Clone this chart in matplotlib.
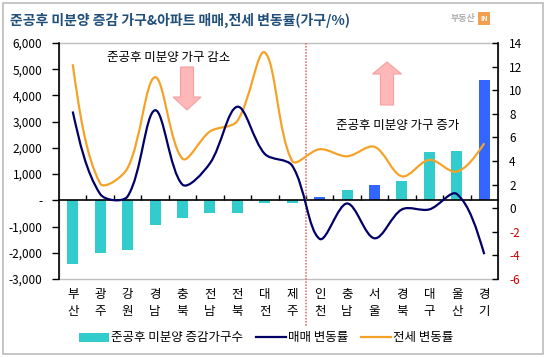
import numpy as np
import matplotlib
matplotlib.use("Agg")
import matplotlib.pyplot as plt
from matplotlib.path import Path
from matplotlib.patches import PathPatch, Rectangle, Polygon, Patch
from matplotlib.lines import Line2D
import matplotlib.transforms as mtransforms

plt.rcParams['font.family'] = ['Noto Sans CJK KR', 'DejaVu Sans']

# ---------------- data ----------------
regions = ['부산', '광주', '강원', '경남', '충북', '전남', '전북', '대전', '제주',
           '인천', '충남', '서울', '경북', '대구', '울산', '경기']
unit_change = [-2420, -2000, -1900, -940, -680, -480, -480, -100, -100,
               120, 380, 570, 730, 1830, 1900, 4580]
sale_rate = [8.2, 1.2, 1.0, 8.3, 2.0, 3.8, 8.6, 4.6, 3.6,
             -2.6, 0.4, -2.55, -0.1, -0.1, 1.2, -3.9]
jeonse_rate = [12.2, 2.1, 3.4, 11.1, 4.2, 6.5, 7.4, 13.2, 4.0,
               5.0, 4.4, 5.2, 2.7, 4.1, 3.1, 5.5]
highlight = ['인천', '서울', '경기']
left_ticks = [-3000, -2000, -1000, 0, 1000, 2000, 3000, 4000, 5000, 6000]
left_labels = ['-3,000', '-2,000', '-1,000', '-', '1,000', '2,000', '3,000', '4,000', '5,000', '6,000']
right_ticks = [-6, -4, -2, 0, 2, 4, 6, 8, 10, 12, 14]

title = '준공후 미분양 증감 가구&아파트 매매,전세 변동률(가구/%)'
legend_labels = ['준공후 미분양 증감가구수', '매매 변동률', '전세 변동률']

# ---------------- style ----------------
W, H = 546, 357
C_TEAL = '#33CCCC'
C_BLUE = '#3366FF'
C_NAVY = '#000066'
C_ORANGE = '#F5A328'

fig = plt.figure(figsize=(W / 100, H / 100), dpi=100)

def px(x0, y0, x1, y1):
    return [x0 / W, 1 - y1 / H, (x1 - x0) / W, (y1 - y0) / H]

ax = fig.add_axes(px(59, 43, 498, 279))
ax2 = ax.twinx()

x = np.arange(len(regions))
colors = [C_BLUE if r in highlight else C_TEAL for r in regions]
ax.bar(x, unit_change, width=0.4, color=colors, zorder=2)

ax.set_xlim(-0.5, len(regions) - 0.5)
ax.set_ylim(-3000, 6000)
ax2.set_ylim(-6, 14)

# left axis
ax.set_yticks(left_ticks)
ax.set_yticklabels(left_labels, fontsize=8.5)
ax.tick_params(axis='y', direction='out', length=5, width=1, pad=7)

# right axis
ax2.set_yticks(right_ticks)
ax2.set_yticklabels([str(t) for t in right_ticks], fontsize=8.5)
for t, lab in zip(right_ticks, ax2.get_yticklabels()):
    lab.set_color('#CC0000' if t < 0 else 'black')
ax2.tick_params(axis='y', direction='in', length=4, width=1, pad=8)

# x axis as zero line
for a in (ax, ax2):
    a.spines['top'].set_visible(False)
ax2.spines['bottom'].set_visible(False)
ax2.spines['left'].set_visible(False)
ax.spines['right'].set_visible(False)
ax.spines['bottom'].set_position(('data', 0))
ax.spines['bottom'].set_linewidth(1.2)
ax.spines['left'].set_linewidth(1.2)
ax2.spines['right'].set_linewidth(1.2)
ax.set_xticks(x)
ax.set_xticklabels(['\n'.join(r) for r in regions], fontsize=9, linespacing=1.45)
ax.tick_params(axis='x', which='major', length=0, pad=63)
ax.set_xticks(np.arange(-0.5, len(regions), 1.0)[1:-1], minor=True)
ax.tick_params(axis='x', which='minor', direction='in', length=3.5, width=1)

# plot area border (gray)
ax.add_patch(Rectangle((0, 0), 1, 1, transform=ax.transAxes, fill=False,
                       ec='#C0C0C0', lw=1, zorder=0, clip_on=False))

# smooth lines: Bezier through the data points, tangents weighted by
# on-screen chord lengths (spreadsheet-style smoothing)
fig.canvas.draw()
def smooth_path(a, xs, ys, s=1.0 / 3):
    pts = np.column_stack([xs, ys]).astype(float)
    scr = a.transData.transform(pts)
    n = len(pts)
    seg = np.hypot(*np.diff(scr, axis=0).T)
    verts = [pts[0]]
    codes = [Path.MOVETO]
    def ctrl(i):
        if i == 0 or i == n - 1:
            return pts[i], pts[i]
        d = pts[i + 1] - pts[i - 1]
        la, lb = seg[i - 1], seg[i]
        return pts[i] - d * s * la / (la + lb), pts[i] + d * s * lb / (la + lb)
    for i in range(n - 1):
        _, c1 = ctrl(i)
        c2, _ = ctrl(i + 1)
        if i == 0:
            c1 = pts[0] + (c2 - pts[0]) / 2 * 0 + (pts[1] - pts[0]) / 3 * 0 + (c2 - pts[0]) * 0.5
        if i + 1 == n - 1:
            c2 = pts[n - 1] + (c1 - pts[n - 1]) * 0.5
        verts += [c1, c2, pts[i + 1]]
        codes += [Path.CURVE4] * 3
    return Path(verts, codes)

ax2.add_patch(PathPatch(smooth_path(ax2, x, jeonse_rate), fill=False, ec=C_ORANGE,
                        lw=1.6, zorder=3))
ax2.add_patch(PathPatch(smooth_path(ax2, x, sale_rate), fill=False, ec=C_NAVY,
                        lw=1.6, zorder=4))

# dotted red divider
trans = mtransforms.blended_transform_factory(ax.transData, ax.transAxes)
ax.plot([8.5, 8.5], [1.0, -0.205], transform=trans, color='#E06060',
        ls=(0, (1, 1)), lw=1.1, clip_on=False, zorder=5)

# annotations
fig.text(169 / W, 1 - 57 / H, '준공후 미분양 가구 감소', ha='center', va='center', fontsize=9)
fig.text(398 / W, 1 - 125 / H, '준공후 미분양 가구 증가', ha='center', va='center', fontsize=9)

def arrow(cx, y_tail, y_base, y_tip, shaft_w, head_w):
    pts = [(cx - shaft_w / 2, y_tail), (cx + shaft_w / 2, y_tail),
           (cx + shaft_w / 2, y_base), (cx + head_w / 2, y_base),
           (cx, y_tip), (cx - head_w / 2, y_base), (cx - shaft_w / 2, y_base)]
    pts = [(px_ / W, 1 - py / H) for px_, py in pts]
    fig.patches.append(Polygon(pts, closed=True, transform=fig.transFigure,
                               fc='#FFB8B8', ec='#F4A0A0', lw=0.8))

arrow(187, 67, 97, 110, 13, 28)
arrow(387, 105, 74, 62, 13, 29)

# title
fig.text(10 / W, 1 - 20 / H, title, ha='left', va='center', fontsize=10,
         fontweight='bold', color='#1F4E79')

# logo
fig.text(475 / W, 1 - 18 / H, '부동산', ha='right', va='center', fontsize=6.5,
         color='#B0B0B0', fontweight='bold')
fig.patches.append(Rectangle((478 / W, 1 - 25 / H), 12 / W, 13 / H,
                             transform=fig.transFigure, fc='#F0A050', ec='none'))
fig.text(484 / W, 1 - 18.5 / H, 'IN', ha='center', va='center', fontsize=5,
         color='white', fontweight='bold')

# legend
handles = [Patch(facecolor=C_TEAL, edgecolor='none'),
           Line2D([], [], color=C_NAVY, lw=1.6),
           Line2D([], [], color=C_ORANGE, lw=1.6)]
fig.legend(handles, legend_labels, loc='center', bbox_to_anchor=(266 / W, 1 - 338 / H),
           ncol=3, frameon=False, fontsize=9, handlelength=2.4, handleheight=0.7,
           handletextpad=0.2, columnspacing=1.0)

# outer border
fig.patches.append(Rectangle((3 / W, 3 / H), 540 / W, 351 / H, transform=fig.transFigure,
                             fill=False, ec='#BBBBBB', lw=1.2))

fig.savefig('out.png', dpi=100)
